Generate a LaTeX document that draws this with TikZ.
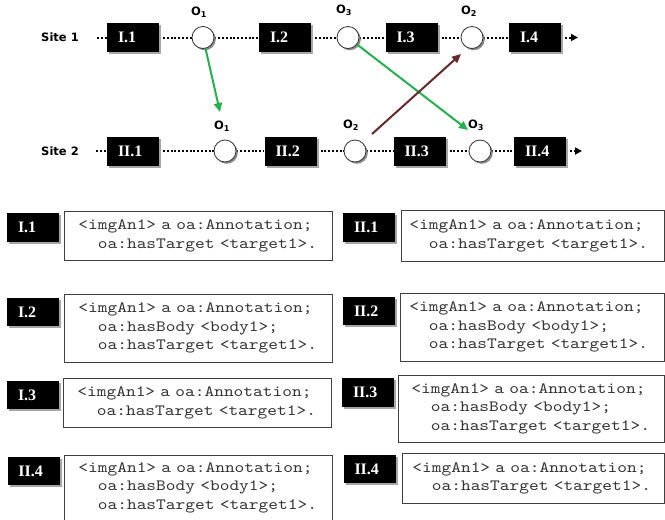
\documentclass[tikz,border=0pt]{standalone}
\usepackage{fontspec}
\setmainfont{Liberation Serif}
\newfontfamily\sitefont{DejaVu Sans}
\newfontfamily\codefont{lmmono10-regular}[Extension=.otf, FakeStretch=1.18, WordSpace={1.18,0,0}]
\usetikzlibrary{shadows,arrows.meta,backgrounds}
\definecolor{arrgreen}{RGB}{34,177,76}
\definecolor{arrbrown}{RGB}{105,40,40}
\begin{document}
\begin{tikzpicture}[x=1pt,y=-1pt,
  blk/.style={rectangle, fill=black, minimum width=52pt, minimum height=29pt,
    text width=30pt, inner xsep=11pt, inner ysep=0pt, align=left, text=white,
    font=\bfseries\fontsize{16}{16}\selectfont,
    drop shadow={shadow xshift=2pt, shadow yshift=-2pt, fill=black!35, opacity=1}},
  ev/.style={circle, draw=black!80, line width=0.8pt, fill=white, minimum size=22pt,
    inner sep=0pt,
    drop shadow={shadow xshift=1.8pt, shadow yshift=-1.8pt, fill=black!45, opacity=1}},
  olab/.style={font=\sitefont\bfseries\fontsize{11.5}{12}\selectfont, inner sep=0pt},
  sitelab/.style={font=\sitefont\bfseries\fontsize{11.5}{12}\selectfont, inner sep=0pt},
  tl/.style={dash pattern=on 2pt off 1.8pt, line width=2pt},
  tlend/.style={tl, -{Triangle[length=7pt,width=7pt]}},
  garr/.style={draw=arrgreen, line width=2pt, -{Triangle[length=9pt,width=8pt]}},
  barr/.style={draw=arrbrown, line width=2pt, -{Triangle[length=9pt,width=8pt]}},
  code/.style={draw=black!75, line width=0.8pt, fill=white, anchor=north west,
    align=left, font=\codefont\fontsize{15.7}{18.5}\selectfont, text=black!80,
    inner ysep=0pt},
]
\useasboundingbox (0,0) rectangle (665,520);

% ---------- timelines ----------
\node[sitelab] (s1) at (60,37.5) {Site 1};
\node[sitelab] (s2) at (60,151) {Site 2};

\coordinate (st1) at (97,37.5);
\node[blk] (I1) at (133,37.5) {I.1};
\node[ev] (O1a) at (203,37.5) {};
\node[blk] (I2) at (285,37.5) {I.2};
\node[ev] (O3a) at (348,37.5) {};
\node[blk] (I3) at (411.5,37.5) {I.3};
\node[ev] (O2a) at (472,37.5) {};
\node[blk] (I4) at (535,37.5) {I.4};
\coordinate (en1) at (578,37.5);

\coordinate (st2) at (96,151);
\node[blk] (II1) at (133,151) {II.1};
\node[ev] (O1b) at (225,151) {};
\node[blk] (II2) at (290.5,151) {II.2};
\node[ev] (O2b) at (355,151) {};
\node[blk] (II3) at (419.5,151) {II.3};
\node[ev] (O3b) at (480,151) {};
\node[blk] (II4) at (540,151) {II.4};
\coordinate (en2) at (582,151);

\node[olab] (lO1a) at (199,12) {O\textsubscript{1}};
\node[olab] (lO3a) at (344,10) {O\textsubscript{3}};
\node[olab] (lO2a) at (469,11) {O\textsubscript{2}};
\node[olab] (lO1b) at (222,126) {O\textsubscript{1}};
\node[olab] (lO2b) at (351,125) {O\textsubscript{2}};
\node[olab] (lO3b) at (476,125) {O\textsubscript{3}};

\begin{scope}[on background layer]
\draw[tl] (st1) -- (I1);
\draw[tl] (I1) -- (O1a);
\draw[tl] (O1a) -- (I2);
\draw[tl] (I2) -- (O3a);
\draw[tl] (O3a) -- (I3);
\draw[tl] (I3) -- (O2a);
\draw[tl] (O2a) -- (I4);
\draw[tlend] (I4) -- (en1);
\draw[tl] (st2) -- (II1);
\draw[tl] (II1) -- (O1b);
\draw[tl] (O1b) -- (II2);
\draw[tl] (II2) -- (O2b);
\draw[tl] (O2b) -- (II3);
\draw[tl] (II3) -- (O3b);
\draw[tl] (O3b) -- (II4);
\draw[tlend] (II4) -- (en2);
\end{scope}

\coordinate (g1e) at (220,112);
\coordinate (g2e) at (468,130);
\coordinate (bs) at (372,134);
\coordinate (be) at (461,54);
\draw[garr] (O1a) -- (g1e);
\draw[garr] (O3a) -- (g2e);
\draw[barr] (bs) -- (be);

% ---------- annotation boxes ----------
\node[blk, minimum height=29pt] (kI1) at (33,227.5) {I.1};
\node[code, minimum width=268pt, minimum height=49pt, text width=240pt, inner xsep=14pt]
  (cI1) at (64,211) {<imgAn1> a oa:Annotation;\\\phantom{oa}oa:hasTarget <target1>.};

\node[blk, minimum height=28pt] (kI2) at (33,312) {I.2};
\node[code, minimum width=268pt, minimum height=68pt, text width=240pt, inner xsep=14pt]
  (cI2) at (64,294) {<imgAn1> a oa:Annotation;\\\phantom{oa}oa:hasBody <body1>;\\\phantom{oa}oa:hasTarget <target1>.};

\node[blk, minimum height=28pt] (kI3) at (33,395) {I.3};
\node[code, minimum width=268pt, minimum height=49pt, text width=240pt, inner xsep=14pt]
  (cI3) at (63,378) {<imgAn1> a oa:Annotation;\\\phantom{oa}oa:hasTarget <target1>.};

\node[blk, minimum height=28pt] (kI4) at (33.5,471) {II.4};
\node[code, minimum width=268pt, minimum height=65pt, text width=240pt, inner xsep=14pt]
  (cI4) at (64,455) {<imgAn1> a oa:Annotation;\\\phantom{oa}oa:hasBody <body1>;\\\phantom{oa}oa:hasTarget <target1>.};

\node[blk, minimum height=29pt] (kII1) at (369,227.5) {II.1};
\node[code, minimum width=263pt, minimum height=51pt, text width=247pt, inner xsep=8pt]
  (cII1) at (401,210) {<imgAn1> a oa:Annotation;\\\phantom{oa}oa:hasTarget <target1>.};

\node[blk, minimum height=28pt] (kII2) at (369,311) {II.2};
\node[code, minimum width=264pt, minimum height=68pt, text width=246pt, inner xsep=9pt]
  (cII2) at (400,293) {<imgAn1> a oa:Annotation;\\\phantom{oa}oa:hasBody <body1>;\\\phantom{oa}oa:hasTarget <target1>.};

\node[blk, minimum height=29pt] (kII3) at (368,392.5) {II.3};
\node[code, minimum width=266pt, minimum height=67pt, text width=240pt, inner xsep=13pt]
  (cII3) at (398,375) {<imgAn1> a oa:Annotation;\\\phantom{oa}oa:hasBody <body1>;\\\phantom{oa}oa:hasTarget <target1>.};

\node[blk, minimum height=28pt] (kII4) at (369.5,469) {II.4};
\node[code, minimum width=262pt, minimum height=50pt, text width=242pt, inner xsep=10pt]
  (cII4) at (402,453) {<imgAn1> a oa:Annotation;\\\phantom{oa}oa:hasTarget <target1>.};
\end{tikzpicture}
\end{document}
